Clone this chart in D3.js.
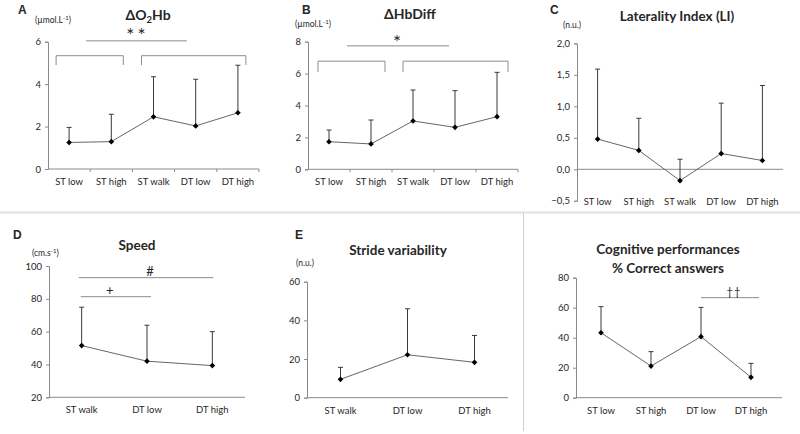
<!DOCTYPE html>
<html>
<head>
<meta charset="utf-8">
<script src="https://cdn.jsdelivr.net/npm/d3@7"></script>
<style>
body { margin: 0; background: #fff; }
svg text { font-family: Lato, "Liberation Sans", sans-serif; fill: #262626; }
</style>
</head>
<body>
<svg id="chart" width="800" height="434"></svg>
<script>
// categories
var catsAll  = ["ST low", "ST high", "ST walk", "DT low", "DT high"];
var catsWalk = ["ST walk", "DT low", "DT high"];
var catsCog  = ["ST low", "ST high", "DT low", "DT high"];

// mean values and SD (only the upper bar is drawn)
var o2hbMean   = [1.25, 1.29, 2.46, 2.03, 2.65];
var o2hbSd     = [0.71, 1.29, 1.89, 2.20, 2.24];
var hbDiffMean = [1.73, 1.59, 3.03, 2.63, 3.30];
var hbDiffSd   = [0.73, 1.50, 1.94, 2.30, 2.78];
var liMean     = [0.48, 0.30, -0.18, 0.25, 0.14];
var liSd       = [1.11, 0.51, 0.34, 0.80, 1.19];
var speedMean  = [51.5, 42.0, 39.3];
var speedSd    = [23.4, 21.9, 20.7];
var strideMean = [9.5, 22.2, 18.3];
var strideSd   = [6.2, 23.8, 13.9];
var cogMean    = [43.3, 21.1, 40.7, 13.6];
var cogSd      = [17.4, 9.6, 19.5, 9.3];

// y tick labels
var ticksA = [0, 2, 4, 6];
var ticksB = [0, 2, 4, 6, 8];
var ticksC = [-0.5, 0, 0.5, 1, 1.5, 2];
var ticksD = [20, 40, 60, 80, 100];
var ticksE = [0, 20, 40, 60];
var ticksF = [0, 20, 40, 60, 80];

var svg = d3.select("#chart");
var axisCol = "#8a8a8a";

// separators between the panel rows
svg.append("line").attr("x1", 0).attr("x2", 800).attr("y1", 212.5).attr("y2", 212.5)
  .attr("stroke", "#e0e0e0").attr("stroke-width", 2);
svg.append("line").attr("x1", 523.5).attr("x2", 523.5).attr("y1", 213).attr("y2", 431)
  .attr("stroke", "#cfcfcf").attr("stroke-width", 1);

function drawPanel(p) {
  var x = d3.scaleBand().domain(p.cats).range(p.xr);
  var y = d3.scaleLinear().domain(p.yd).range(p.yr);
  var cx = function(d) { return x(d) + x.bandwidth() / 2; };
  var g = svg.append("g");
  var rows = p.cats.map(function(c, i) { return { c: c, m: p.mean[i], s: p.sd[i] }; });

  // y axis
  var ya = g.append("g").attr("transform", "translate(" + p.xr[0] + ",0)")
    .call(d3.axisLeft(y).tickValues(p.ticks).tickSize(3).tickPadding(4).tickFormat(p.fmt));
  ya.select(".domain").attr("stroke", axisCol);
  ya.selectAll(".tick line").attr("stroke", axisCol);
  ya.selectAll("text").attr("font-size", 9.5).attr("fill", "#333");

  // category axis line
  var base = y(p.base);
  g.append("line").attr("x1", p.xr[0]).attr("x2", p.xr[1] + (p.extra || 0))
    .attr("y1", base).attr("y2", base).attr("stroke", axisCol);
  if (p.catTicks) {
    var bounds = p.cats.map(function(c) { return x(c); }).concat([p.xr[1]]);
    g.selectAll(".ct").data(bounds.slice(1)).enter().append("line")
      .attr("x1", function(d) { return d; }).attr("x2", function(d) { return d; })
      .attr("y1", base).attr("y2", base + 3).attr("stroke", axisCol);
  }
  // category labels
  var xa = g.append("g").attr("transform", "translate(0," + y(p.labelAt) + ")")
    .call(d3.axisBottom(x).tickSize(0).tickPadding(p.labelPad));
  xa.select(".domain").remove();
  xa.selectAll("text").attr("font-size", 9.5).attr("fill", "#333");

  // upper error bars
  g.selectAll(".err").data(rows).enter().append("path")
    .attr("d", function(d) {
      var xx = cx(d.c), t = y(d.m + d.s);
      return "M" + xx + "," + y(d.m) + "V" + t + "M" + (xx - 2.5) + "," + t + "H" + (xx + 2.5);
    })
    .attr("stroke", "#3a3a3a").attr("stroke-width", 1).attr("fill", "none");

  // mean line
  var line = d3.line().x(function(d) { return cx(d.c); }).y(function(d) { return y(d.m); });
  g.append("path").attr("d", line(rows)).attr("stroke", "#666").attr("fill", "none");

  // diamond markers (rotated squares)
  g.selectAll(".pt").data(rows).enter().append("path")
    .attr("d", d3.symbol(d3.symbolSquare).size(16))
    .attr("transform", function(d) { return "translate(" + cx(d.c) + "," + y(d.m) + ") rotate(45)"; })
    .attr("fill", "#000");

  // significance brackets / bars
  (p.brackets || []).forEach(function(b) {
    var x0 = cx(b.from) + b.dx0, x1 = cx(b.to) + b.dx1, yt = y(b.top);
    var d = b.drop ? "M" + x0 + "," + y(b.drop) + "V" + yt + "H" + x1 + "V" + y(b.drop)
                   : "M" + x0 + "," + yt + "H" + x1;
    g.append("path").attr("d", d).attr("stroke", "#8c8c8c").attr("fill", "none");
    if (b.label) {
      g.append("text").attr("x", (x0 + x1) / 2 + (b.ldx || 0)).attr("y", yt - b.ldy)
        .attr("text-anchor", "middle").attr("font-size", b.fs || 13)
        .attr("letter-spacing", b.ls || 0).text(b.label);
    }
  });
  return { x: x, y: y };
}

var fmtInt = d3.format("d");
var fmtComma = function(v) { return d3.format(".1f")(v).replace(".", ","); };

drawPanel({ cats: catsAll, mean: o2hbMean, sd: o2hbSd, xr: [48, 259], yd: [0, 6], yr: [169, 41.7],
  ticks: ticksA, fmt: fmtInt, base: 0, labelAt: 0, labelPad: 9, catTicks: true,
  brackets: [
    { from: "ST low", to: "ST high", dx0: -13, dx1: 12, top: 5.34, drop: 4.9 },
    { from: "ST walk", to: "DT high", dx0: -12, dx1: 8, top: 5.34, drop: 4.9 },
    { from: "ST low", to: "DT low", dx0: 17, dx1: -9, top: 6.04, label: "**", ldy: -1, ldx: 1, fs: 19, ls: 3 }
  ] });

drawPanel({ cats: catsAll, mean: hbDiffMean, sd: hbDiffSd, xr: [308, 518], yd: [0, 8], yr: [169.3, 41.7],
  ticks: ticksB, fmt: fmtInt, base: 0, labelAt: 0, labelPad: 9, catTicks: true,
  brackets: [
    { from: "ST low", to: "ST high", dx0: -11, dx1: 14, top: 6.78, drop: 6.1 },
    { from: "ST walk", to: "DT high", dx0: -10, dx1: 11, top: 6.78, drop: 6.1 },
    { from: "ST low", to: "DT low", dx0: 18, dx1: -6, top: 7.74, label: "*", ldy: -3, ldx: -1, fs: 19 }
  ] });

drawPanel({ cats: catsAll, mean: liMean, sd: liSd, xr: [577, 783], yd: [-0.5, 2], yr: [200.8, 43.3],
  ticks: ticksC, fmt: fmtComma, base: 0, labelAt: -0.5, labelPad: -3 });

drawPanel({ cats: catsWalk, mean: speedMean, sd: speedSd, xr: [49, 245], yd: [20, 100], yr: [397.3, 266],
  ticks: ticksD, fmt: fmtInt, base: 20, labelAt: 20, labelPad: 9,
  brackets: [
    { from: "ST walk", to: "DT high", dx0: -3, dx1: 1, top: 92.9, label: "#", ldy: 1.5, ldx: 4 },
    { from: "ST walk", to: "DT low", dx0: -1, dx1: 4, top: 81.3, label: "+", ldy: 1.5, ldx: -6 }
  ] });

drawPanel({ cats: catsWalk, mean: strideMean, sd: strideSd, xr: [307, 508], yd: [0, 60], yr: [397.7, 281.7],
  ticks: ticksE, fmt: fmtInt, base: 0, labelAt: 0, labelPad: 10 });

drawPanel({ cats: catsCog, mean: cogMean, sd: cogSd, xr: [576, 776], yd: [0, 80], yr: [397.7, 277.7],
  ticks: ticksF, fmt: fmtInt, base: 0, labelAt: 0, labelPad: 10, extra: 6,
  brackets: [
    { from: "DT low", to: "DT high", dx0: 0, dx1: 8, top: 66.7, label: "\u2020\u2020", ldy: 2, ldx: 4, fs: 11, ls: 1 }
  ] });

// titles
function title(xc, yb, txt) {
  return svg.append("text").attr("x", xc).attr("y", yb).attr("text-anchor", "middle")
    .attr("font-size", 13.5).attr("font-weight", "bold").text(txt);
}
var tA = svg.append("text").attr("x", 148).attr("y", 20).attr("text-anchor", "middle")
  .attr("font-size", 14).attr("font-weight", "bold");
tA.append("tspan").text("\u0394O");
tA.append("tspan").attr("dy", 3).attr("font-size", 9.5).text("2");
tA.append("tspan").attr("dy", -3).text("Hb");
title(410, 19, "\u0394HbDiff").attr("font-size", 14);
title(677, 21, "Laterality Index (LI)");
title(137, 250, "Speed");
title(398, 255, "Stride variability");
title(668, 254, "Cognitive performances");
title(668, 273, "% Correct answers");

// units
function unit(x0, yb, txt, sup) {
  var t = svg.append("text").attr("x", x0).attr("y", yb).attr("font-size", 8.5).attr("fill", "#333");
  t.append("tspan").text(txt);
  if (sup) {
    t.append("tspan").attr("dy", -3).attr("font-size", 6).text(sup);
    t.append("tspan").attr("dy", 3).text(")");
  }
}
unit(35, 23, "(\u00b5mol.L", "-1");
unit(295, 27, "(\u00b5mol.L", "-1");
unit(563, 28, "(n.u.)");
unit(32, 256, "(cm.s", "-1");
unit(296, 266, "(n.u.)");

// panel letters
[["A", 18, 13.5], ["B", 302, 13.5], ["C", 550, 13.5], ["D", 13, 238.5], ["E", 295, 238.5]].forEach(function(l) {
  svg.append("text").attr("x", l[1]).attr("y", l[2]).attr("font-size", 12).attr("font-weight", "bold")
    .style("font-family", "'Liberation Sans', Arial, sans-serif").attr("fill", "#000").text(l[0]);
});
</script>
</body>
</html>
